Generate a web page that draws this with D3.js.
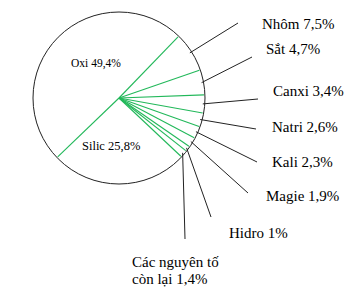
<!DOCTYPE html>
<html>
<head>
<meta charset="utf-8">
<script src="https://cdn.jsdelivr.net/npm/d3@7"></script>
<style>
  body { margin: 0; background: #fff; }
</style>
</head>
<body>
<script>
/** chart data: share of elements in the Earth's crust */
let elements = ["Nhôm", "Sắt", "Canxi", "Natri", "Kali", "Magie", "Hidro", "Các nguyên tố còn lại", "Silic", "Oxi"];
let percents = [7.5, 4.7, 3.4, 2.6, 2.3, 1.9, 1, 1.4, 25.8, 49.4];
let labelTexts = [["Nhôm 7,5%"], ["Sắt 4,7%"], ["Canxi 3,4%"], ["Natri 2,6%"], ["Kali 2,3%"],
                  ["Magie 1,9%"], ["Hidro 1%"], ["Các nguyên tố", "còn lại 1,4%"], ["Silic 25,8%"], ["Oxi 49,4%"]];

/** canvas */
let width = 346, height = 289;
let cx = 119, cy = 98, radius = 86;
let fontStack = "'Liberation Serif', 'Times New Roman', Times, serif";

let svg = d3.select('body').append('svg')
    .attr('width', width)
    .attr('height', height);

let g = svg.append('g')
    .attr('transform', `translate(${cx}, ${cy})`);

/** pie layout, small slices grouped on the right side */
let startDeg = 44;
let pie = d3.pie()
    .sort(null)
    .value(function (d) { return d; })
    .startAngle(startDeg * Math.PI / 180)
    .endAngle((startDeg + 360) * Math.PI / 180);
let arcs = pie(percents);

/** label placement: [text x, first baseline, leader end x, leader end y], null = inside slice */
let labelLayout = [
    [262, 29, 238, 23],
    [266, 54, 252, 57],
    [273, 96, 258, 99],
    [272, 132, 256, 129],
    [272, 167, 257, 162],
    [266, 201, 248, 193],
    [229, 238, 211, 217],
    [132, 267, 185, 239],
    [82, 150, null, null],
    [71, 67, null, null]
];
let insideSize = [null, null, null, null, null, null, null, null, 12.5, 11.5];

function pointAt(angle, r) {
    return [Math.sin(angle) * r, -Math.cos(angle) * r];
}

/** outer circle */
g.append('circle')
    .attr('r', radius)
    .attr('fill', 'none')
    .attr('stroke', '#222')
    .attr('stroke-width', 1);

/** slice borders (green spokes) */
g.selectAll('.spoke')
    .data(arcs)
    .enter()
    .append('line')
    .attr('class', 'spoke')
    .attr('x1', 0)
    .attr('y1', 0)
    .attr('x2', function (d) { return pointAt(d.startAngle, radius - 1)[0]; })
    .attr('y2', function (d) { return pointAt(d.startAngle, radius - 1)[1]; })
    .attr('stroke', '#22b85a')
    .attr('stroke-width', 1.1);

/** leader lines for the outside labels */
let outside = arcs.filter(function (d, i) { return labelLayout[i][2] !== null; });
svg.selectAll('.leader')
    .data(outside)
    .enter()
    .append('line')
    .attr('class', 'leader')
    .attr('x1', function (d) { return cx + pointAt((d.startAngle + d.endAngle) / 2, radius - 2)[0]; })
    .attr('y1', function (d) { return cy + pointAt((d.startAngle + d.endAngle) / 2, radius - 2)[1]; })
    .attr('x2', function (d) { return labelLayout[d.index][2]; })
    .attr('y2', function (d) { return labelLayout[d.index][3]; })
    .attr('stroke', '#222')
    .attr('stroke-width', 1);

/** labels */
arcs.forEach(function (d, i) {
    let lay = labelLayout[i];
    let t = svg.append('text')
        .attr('x', lay[0])
        .attr('y', lay[1])
        .attr('fill', '#000')
        .style('font-family', fontStack)
        .style('font-size', (insideSize[i] || 15) + 'px');
    labelTexts[i].forEach(function (line, k) {
        t.append('tspan')
            .attr('x', lay[0])
            .attr('dy', k === 0 ? 0 : 17)
            .text(line);
    });
});
</script>
</body>
</html>
